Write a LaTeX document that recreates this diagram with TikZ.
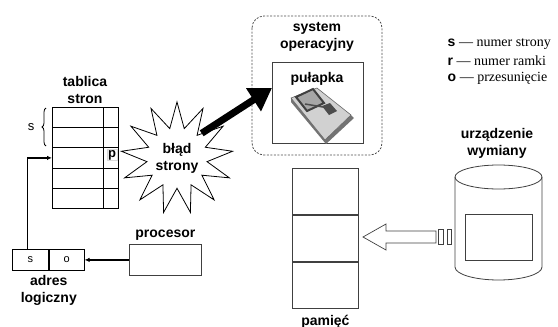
\documentclass[tikz,border=0pt]{standalone}
\usepackage{fontspec}
\setmainfont{Liberation Sans}
\newfontfamily\legendfont{Liberation Serif}
\usetikzlibrary{arrows.meta, positioning, shapes.geometric, decorations.pathreplacing}

\tikzset{
  lbl/.style={font=\bfseries\fontsize{14}{17}\selectfont, align=center},
  cell/.style={draw, minimum height=21pt, inner sep=0pt, font=\fontsize{11}{13}\selectfont},
  frame/.style={draw=black!75, line width=0.8pt},
  ptr/.style={-{Latex[length=5pt,width=4.5pt]}, line width=1.3pt},
}

\begin{document}
\begin{tikzpicture}[x=1pt, y=-1pt, line width=0.8pt]
  \useasboundingbox (0,0) rectangle (558,327);

  % page table
  \node[draw, anchor=north west, minimum width=66pt, minimum height=101pt, inner sep=0pt] (tab) at (52,107) {};
  \foreach \y in {127,147,168,188}
    \draw (52,\y) -- (118,\y);
  \draw (103,107) -- (103,208);
  \node[lbl] (tabname) at (85,90) {tablica\\stron};
  \node[draw=black!15, line width=0.5pt, inner sep=0.8pt, font=\bfseries\fontsize{13}{15}\selectfont] (p) at (112,155) {p};
  \draw[decorate, decoration={brace, amplitude=4pt}] (46,146) -- (46,108);
  \node[font=\fontsize{13}{15}\selectfont] (s) at (31,127) {s};

  % logical address
  \node[cell, minimum width=36pt, anchor=north west] (adrs) at (12,249) {s};
  \node[cell, minimum width=35pt, right=0pt of adrs] (adro) {o};
  \node[lbl, below=1pt of adrs.south east] (adrname) {adres\\logiczny};

  % processor
  \node[frame, minimum width=72pt, minimum height=31pt, anchor=north west] (proc) at (129,244) {};
  \node[lbl, above=0pt of proc] (procname) {procesor};
  \draw[ptr] (proc.west) -- (adro.east);
  \draw[ptr] ([xshift=-3pt]adrs.north) |- (tab.west);

  % page fault
  \node[star, star points=13, star point ratio=1.85, draw, minimum size=112pt, inner sep=0pt, lbl] (blad) at (177,158) {błąd\\strony};

  % operating system with the trap
  \draw[draw=black!70, dash pattern=on 2pt off 1.5pt, rounded corners=12pt] (252,16) rectangle (382,155);
  \node[lbl] (osname) at (317,37) {system\\operacyjny};
  \node[frame, anchor=north west, minimum width=91pt, minimum height=81pt, inner sep=0pt] (trap) at (272,62) {};
  \node[lbl] (trapname) at (317,79) {pułapka};
  % mousetrap
  \fill[black!55] (291,98) -- (291,102) -- (326,144) -- (354,118) -- (351,115) -- (325,140) -- cycle;
  \fill[black!18] (291,98) -- (317,88) -- (351,115) -- (325,140) -- cycle;
  \draw[black!60, line width=0.6pt] (291,98) -- (317,88) -- (351,115) -- (325,140) -- cycle;
  \draw[black!75, line width=2pt, fill=black!35] (296,97) -- (313,89) -- (324,103) -- (307,111) -- cycle;
  \draw[black!70, line width=1.5pt] (305,104) -- (329,108);
  \fill[black!70] (322,106) -- (330,103) -- (337,111) -- (329,115) -- cycle;

  \draw[-{Triangle[length=22pt,width=26pt]}, line width=7pt] (blad.45) -- ([yshift=15pt]trap.west);

  % memory
  \node[frame, anchor=north west, minimum width=66pt, minimum height=46pt, inner sep=0pt] (mem1) at (292,168) {};
  \node[frame, minimum width=66pt, minimum height=46pt, inner sep=0pt, below=0pt of mem1] (mem2) {};
  \node[frame, minimum width=66pt, minimum height=46pt, inner sep=0pt, below=0pt of mem2] (mem3) {};
  \node[lbl, inner sep=0pt, below=6pt of mem3] (memname) {pamięć};

  % swap device
  \draw[frame] (455,177) -- (455,267) arc[start angle=180, end angle=0, x radius=43.5, y radius=13] -- (542,177);
  \draw[frame] (498.5,177) ellipse[x radius=43.5, y radius=12];
  \node[frame, minimum width=67pt, minimum height=46pt, inner sep=0pt] (page) at (498.5,237) {};
  \node[lbl] (swapname) at (497,143) {urządzenie\\wymiany};

  % page brought in
  \draw[frame, line width=0.7pt] (363,237) -- (386,224) -- (386,231) -- (436,231) -- (436,243) -- (386,243) -- (386,250) -- cycle;
  \draw[frame, line width=0.7pt] (438,229) rectangle (443,244);
  \draw[frame, line width=0.7pt] (447,229) rectangle (451,244);

  % legend
  \begin{scope}[every node/.style={anchor=west, font=\legendfont\fontsize{14}{17}\selectfont}]
    \node (ls) at (444,44) {{\rmfamily\bfseries s} — numer strony};
    \node (lr) at (444,61) {{\rmfamily\bfseries r} — numer ramki};
    \node (lo) at (444,78) {{\rmfamily\bfseries o} — przesunięcie};
  \end{scope}
\end{tikzpicture}
\end{document}
